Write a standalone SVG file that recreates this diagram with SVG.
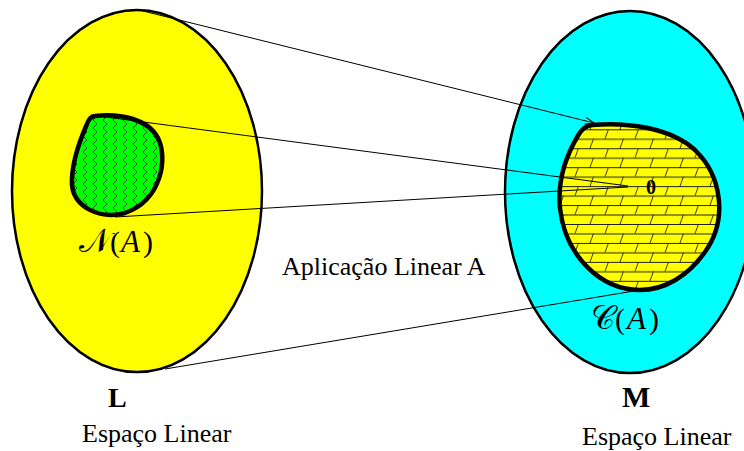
<svg xmlns="http://www.w3.org/2000/svg" width="744" height="451" viewBox="0 0 744 451">
<style>
.space{stroke:#000;stroke-width:2.5}
.blob{stroke:#000;stroke-width:4.5;stroke-linejoin:round}
.conn{stroke:#000;stroke-width:1;fill:none}
</style>
<defs>
<pattern id="zig" patternUnits="userSpaceOnUse" x="0" y="0" width="10" height="8">
<rect width="10" height="8" fill="#00ff00"/>
<path d="M3,0 L7,4 L3,8" fill="none" stroke="#004000" stroke-width="0.9"/>
</pattern>
<pattern id="brick" patternUnits="userSpaceOnUse" x="0" y="129.3" width="30" height="18.94">
<rect width="30" height="18.94" fill="#ffff00"/>
<path d="M0,0.4 H30 M0,9.87 H30" stroke="#222" stroke-width="1" fill="none"/>
<path d="M5,9.47 L8.5,0 M20,18.94 L23.5,9.47" stroke="#222" stroke-width="0.9" fill="none"/>
</pattern>
<marker id="arr" markerWidth="12" markerHeight="10" refX="10" refY="5" orient="auto" markerUnits="userSpaceOnUse">
<path d="M1,1.5 L10,5 L1,8.5" fill="none" stroke="#000" stroke-width="1"/>
</marker>
</defs>
<g id="space-L">
<ellipse class="space" cx="137" cy="191" rx="125" ry="181" fill="#ffff00"/>
</g>
<g id="space-M">
<ellipse class="space" cx="630" cy="192" rx="125" ry="181" fill="#00ffff"/>
</g>
<g id="kernel">
<path class="blob" fill="url(#zig)" d="M95,116 C120,113 148,119 158,138 C168,158 162,200 125,213 C100,220 74,207 72,185 C71,165 80,140 87,124 Q90,116 95,116 Z"/>
</g>
<g id="image">
<path class="blob" fill="url(#brick)" d="M592,125 C625,122 670,127 695,150 C722,176 728,220 705,252 C688,276 665,290 640,290 C600,290 565,255 560,208 C557,178 568,152 579,134 Q584,126 592,125 Z"/>
</g>
<g id="connectors">
<line class="conn" x1="143" y1="11" x2="594" y2="123" marker-end="url(#arr)"/>
<line class="conn" x1="98" y1="116" x2="628" y2="186"/>
<line class="conn" x1="115" y1="217" x2="628" y2="187"/>
<line class="conn" x1="165" y1="369" x2="640" y2="290"/>
</g>
<text x="79" y="252" font-family="Liberation Serif, serif" font-size="33">𝒩<tspan x="110" font-size="30">(</tspan><tspan x="121" font-style="italic" font-size="31">A</tspan><tspan x="143" font-size="30">)</tspan></text>
<text x="591" y="329" font-family="Liberation Serif, serif" font-size="33">𝒞<tspan x="615" font-size="30">(</tspan><tspan x="627" font-style="italic" font-size="31">A</tspan><tspan x="649" font-size="30">)</tspan></text>
<text x="646" y="194" font-family="Liberation Serif, serif" font-weight="bold" font-size="20">0</text>
<text x="108" y="407" font-family="Liberation Serif, serif" font-weight="bold" font-size="28">L</text>
<text x="622" y="407" font-family="Liberation Serif, serif" font-weight="bold" font-size="30">M</text>
<text x="82" y="442" font-family="Liberation Serif, serif" font-size="26">Espaço Linear</text>
<text x="582" y="445" font-family="Liberation Serif, serif" font-size="26">Espaço Linear</text>
<text x="282" y="275" font-family="Liberation Serif, serif" font-size="26">Aplicação Linear A</text>
</svg>
